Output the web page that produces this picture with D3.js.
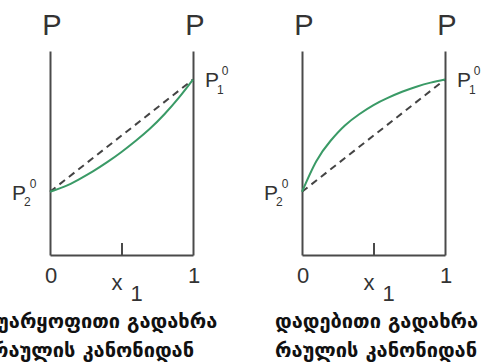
<!DOCTYPE html>
<html>
<head>
<meta charset="utf-8">
<script src="https://cdn.jsdelivr.net/npm/d3@7"></script>
<style>
  html, body { margin: 0; padding: 0; background: #fff; }
  svg { display: block; }
</style>
</head>
<body>
<div id="chart"></div>
<script>
// mole fraction x1 and total vapour pressure (relative units)
const x1Values = [0, 0.1, 0.2, 0.3, 0.4, 0.5, 0.6, 0.7, 0.8, 0.9, 1];
const pNegative = [0.31, 0.335, 0.37, 0.41, 0.455, 0.505, 0.56, 0.62, 0.69, 0.77, 0.86];
const pPositive = [0.31, 0.46, 0.56, 0.635, 0.69, 0.735, 0.77, 0.80, 0.825, 0.845, 0.86];
const p2Pure = 0.31;
const p1Pure = 0.86;
const xTickLabels = ["0", "1"];
const captions = [
  ["უარყოფითი გადახრა", "რაულის კანონიდან"],
  ["დადებითი გადახრა", "რაულის კანონიდან"],
];

const width = 484, height = 363;
const axisColor = "#4a4a4a";
const green = "#3a9a66";
const font = "'Liberation Sans', Arial, sans-serif";

const svg = d3.select("#chart").append("svg")
  .attr("width", width)
  .attr("height", height);

const x = d3.scaleLinear().domain([0, 1]).range([50, 193]);
const y = d3.scaleLinear().domain([0, 1]).range([255, 51]);

const panels = [
  { offset: 0, values: pNegative, caption: captions[0], capX: [-3, -8] },
  { offset: 252, values: pPositive, caption: captions[1], capX: [23, 23] },
];

panels.forEach((pn) => {
  const g = svg.append("g").attr("transform", `translate(${pn.offset},0)`);

  // bottom axis with the middle tick pointing up
  g.append("g")
    .attr("transform", `translate(0,${y(0)})`)
    .call(d3.axisBottom(x).tickValues([0.5]).tickFormat("").tickSizeInner(-12).tickSizeOuter(0))
    .call((a) => a.selectAll("path, line").attr("stroke", axisColor).attr("stroke-width", 2));

  // two vertical pressure axes
  [0, 1].forEach((v) => {
    g.append("g")
      .attr("transform", `translate(${x(v)},0)`)
      .call(d3.axisLeft(y).tickValues([]).tickSizeOuter(0))
      .call((a) => a.selectAll("path").attr("stroke", axisColor).attr("stroke-width", 2));

    g.append("text")
      .attr("x", x(v) + 2)
      .attr("y", 35)
      .attr("text-anchor", "middle")
      .attr("font-family", font)
      .attr("font-size", 29)
      .attr("fill", "#333")
      .text("P");
  });

  // ideal (Raoult) line
  g.append("line")
    .attr("x1", x(0)).attr("y1", y(p2Pure))
    .attr("x2", x(1)).attr("y2", y(p1Pure))
    .attr("stroke", "#444")
    .attr("stroke-width", 2)
    .attr("stroke-dasharray", "7,5");

  // real curve
  const line = d3.line()
    .x((d, i) => x(x1Values[i]))
    .y((d) => y(d))
    .curve(d3.curveNatural);
  g.append("path")
    .datum(pn.values)
    .attr("d", line)
    .attr("fill", "none")
    .attr("stroke", green)
    .attr("stroke-width", 2);

  // P1^0 label
  const p1 = g.append("text")
    .attr("x", x(1) + 12)
    .attr("y", y(p1Pure) + 7)
    .attr("font-family", font)
    .attr("font-size", 21)
    .attr("fill", "#333");
  p1.append("tspan").text("P");
  p1.append("tspan").attr("font-size", 12).attr("dx", -2).attr("dy", 7).text("1");
  p1.append("tspan").attr("font-size", 12).attr("dx", -2).attr("dy", -19).text("0");

  // P2^0 label
  const p2 = g.append("text")
    .attr("x", x(0) - 38)
    .attr("y", y(p2Pure) + 8)
    .attr("font-family", font)
    .attr("font-size", 21)
    .attr("fill", "#333");
  p2.append("tspan").text("P");
  p2.append("tspan").attr("font-size", 12).attr("dx", -2).attr("dy", 6).text("2");
  p2.append("tspan").attr("font-size", 12).attr("dx", -1).attr("dy", -18).text("0");

  // x tick labels
  g.selectAll("text.tick-label")
    .data(xTickLabels)
    .join("text")
    .attr("class", "tick-label")
    .attr("x", (d) => x(+d) + 1)
    .attr("y", 283)
    .attr("text-anchor", "middle")
    .attr("font-family", font)
    .attr("font-size", 22)
    .attr("fill", "#333")
    .text((d) => d);

  // axis title x1
  const xt = g.append("text")
    .attr("x", x(0.5) - 10)
    .attr("y", 290)
    .attr("font-family", font)
    .attr("font-size", 22)
    .attr("fill", "#333");
  xt.append("tspan").text("x");
  xt.append("tspan").attr("dx", 8).attr("dy", 11).text("1");

  // caption
  pn.caption.forEach((c, i) => {
    g.append("text")
      .attr("x", pn.capX[i])
      .attr("y", 328 + i * 29)
      .attr("font-family", "'DejaVu Sans', sans-serif")
      .attr("font-weight", "bold")
      .attr("font-size", 20)
      .attr("fill", "#111")
      .text(c);
  });
});
</script>
</body>
</html>
